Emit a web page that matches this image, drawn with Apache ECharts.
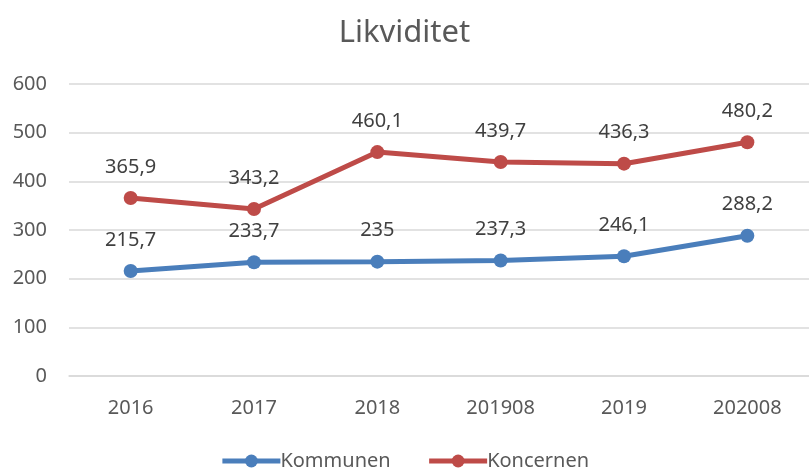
<!DOCTYPE html>
<html><head><meta charset="utf-8">
<script src="https://cdn.jsdelivr.net/npm/echarts@6/dist/echarts.min.js"></script>
<style>html,body{margin:0;padding:0;background:#fff}#c{width:809px;height:468px}</style>
</head><body><div id="c"></div>
<script>
const categories = ['2016','2017','2018','201908','2019','202008'];
const kommunen = [215.7, 233.7, 235, 237.3, 246.1, 288.2];
const koncernen = [365.9, 343.2, 460.1, 439.7, 436.3, 480.2];
const seriesNames = ['Kommunen','Koncernen'];
const FONT = '"Noto Sans", "Open Sans", sans-serif';
const fmt = p => String(p.value).replace('.', ',');
const chart = echarts.init(document.getElementById('c'));
chart.setOption({
  animation: false,
  textStyle: {fontFamily: FONT},
  title: {text: 'Likviditet', left: 'center', top: 13,
    textStyle: {fontFamily: FONT, fontSize: 31, fontWeight: 'normal', color: '#595959'}},
  grid: {left: 69, right: -5, top: 84, bottom: 92, containLabel: false},
  legend: {bottom: -8, left: 'center', itemWidth: 58, itemHeight: 16, itemGap: 36,
    lineStyle: {width: 5},
    textStyle: {fontFamily: FONT, fontSize: 20, color: '#595959', padding: [0,0,0,-5]},
    data: seriesNames},
  xAxis: {type: 'category', data: categories, boundaryGap: true,
    axisLine: {show: true, lineStyle: {color: '#d9d9d9', width: 1.5}},
    axisTick: {show: false},
    axisLabel: {fontFamily: FONT, fontSize: 20, color: '#595959', margin: 22}},
  yAxis: {type: 'value', min: 0, max: 600, interval: 100,
    axisLine: {show: false}, axisTick: {show: false},
    splitLine: {lineStyle: {color: '#d9d9d9', width: 1.5}},
    axisLabel: {fontFamily: FONT, fontSize: 20, color: '#595959', margin: 22}},
  series: [
    {name: seriesNames[0], type: 'line', data: kommunen, symbol: 'circle', symbolSize: 14,
     lineStyle: {width: 5, color: '#4a7ebb'}, itemStyle: {color: '#4a7ebb'},
     label: {show: true, position: 'top', distance: 14, formatter: fmt,
       fontFamily: FONT, fontSize: 20, color: '#404040'}},
    {name: seriesNames[1], type: 'line', data: koncernen, symbol: 'circle', symbolSize: 14,
     lineStyle: {width: 5, color: '#be4b48'}, itemStyle: {color: '#be4b48'},
     label: {show: true, position: 'top', distance: 14, formatter: fmt,
       fontFamily: FONT, fontSize: 20, color: '#404040'}}
  ]
});
</script></body></html>
